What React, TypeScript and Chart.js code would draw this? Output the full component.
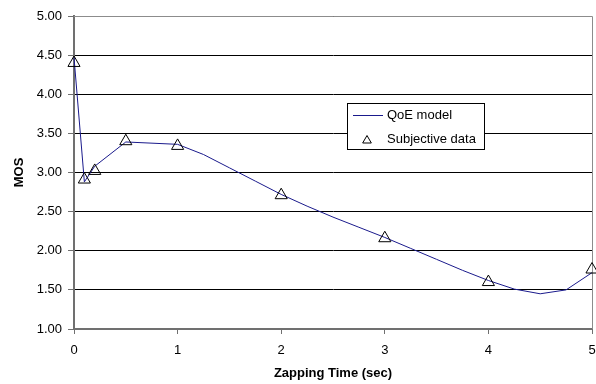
import React, { useEffect, useRef } from "react";
import { Chart, registerables } from "chart.js";

Chart.register(...registerables);

// ---- data ----
const modelTimes = [0, 0.1, 0.2, 0.5, 1, 1.25, 1.5, 1.75, 2, 2.25, 2.5, 2.75, 3, 3.25, 3.5, 3.75, 4, 4.25, 4.5, 4.75, 5];
const modelMos = [4.47, 2.88, 3.08, 3.39, 3.36, 3.23, 3.06, 2.89, 2.72, 2.57, 2.43, 2.3, 2.17, 2.03, 1.89, 1.75, 1.62, 1.51, 1.45, 1.5, 1.72];
const subjectiveTimes = [0, 0.1, 0.2, 0.5, 1, 2, 3, 4, 5];
const subjectiveMos = [4.4, 2.91, 3.02, 3.4, 3.34, 2.71, 2.16, 1.6, 1.76];
const seriesNames = ["QoE model", "Subjective data"];
const xAxisTitle = "Zapping Time (sec)";
const yAxisTitle = "MOS";
const xRange = [0, 5];
const yRange = [1, 5];

const FONT = "'Liberation Sans', Arial, Helvetica, sans-serif";
const NAVY = "#1a1a8c";

export default function App() {
  const ref = useRef<HTMLCanvasElement>(null);

  useEffect(() => {
    if (!ref.current) return;

    const framePlugin = {
      id: "frame",
      beforeDatasetsDraw(chart: any) {
        const { ctx, chartArea } = chart;
        ctx.save();
        ctx.strokeStyle = "#8c8c8c";
        ctx.lineWidth = 1;
        ctx.beginPath();
        ctx.moveTo(chartArea.left, chartArea.top + 0.5);
        ctx.lineTo(chartArea.right + 0.5, chartArea.top + 0.5);
        ctx.lineTo(chartArea.right + 0.5, chartArea.bottom);
        ctx.stroke();
        ctx.restore();
      },
    };

    const legendPlugin = {
      id: "boxLegend",
      afterDraw(chart: any) {
        const ctx = chart.ctx;
        ctx.save();
        const x0 = 347.5, y0 = 103.5, w = 137, h = 46;
        ctx.fillStyle = "#fff";
        ctx.fillRect(x0, y0, w, h);
        ctx.strokeStyle = "#000";
        ctx.lineWidth = 1;
        ctx.strokeRect(x0, y0, w, h);
        ctx.strokeStyle = NAVY;
        ctx.beginPath();
        ctx.moveTo(353, 115.5);
        ctx.lineTo(383, 115.5);
        ctx.stroke();
        const cx = 367, cy = 139.5, r = 5;
        ctx.strokeStyle = "#000";
        ctx.beginPath();
        for (let i = 0; i < 3; i++) {
          const a = (i * 2 * Math.PI) / 3;
          const px = cx + Math.sin(a) * r;
          const py = cy - Math.cos(a) * r + 1;
          if (i === 0) ctx.moveTo(px, py);
          else ctx.lineTo(px, py);
        }
        ctx.closePath();
        ctx.stroke();
        ctx.fillStyle = "#000";
        ctx.font = `13px ${FONT}`;
        ctx.textBaseline = "middle";
        ctx.textAlign = "left";
        ctx.fillText(seriesNames[0], 387, 115);
        ctx.fillText(seriesNames[1], 387, 139);
        ctx.restore();
      },
    };

    const chart = new Chart(ref.current, {
      type: "scatter",
      data: {
        datasets: [
          {
            label: seriesNames[1],
            data: subjectiveTimes.map((x, i) => ({ x, y: subjectiveMos[i] })),
            showLine: false,
            pointStyle: "triangle",
            pointRadius: 7,
            pointBorderWidth: 1,
            borderColor: "#000",
            backgroundColor: "rgba(0,0,0,0)",
            pointBackgroundColor: "rgba(0,0,0,0)",
            pointBorderColor: "#000",
            clip: false,
          },
          {
            label: seriesNames[0],
            data: modelTimes.map((x, i) => ({ x, y: modelMos[i] })),
            showLine: true,
            borderColor: NAVY,
            borderWidth: 1,
            pointRadius: 0,
            tension: 0,
            clip: false,
          },
        ],
      },
      options: {
        animation: false,
        responsive: false,
        maintainAspectRatio: false,
        devicePixelRatio: 1,
        layout: { autoPadding: false, padding: { left: 0, right: 4, top: 16, bottom: 0 } },
        plugins: {
          legend: { display: false },
          tooltip: { enabled: false },
        },
        scales: {
          x: {
            type: "linear",
            min: xRange[0],
            max: xRange[1],
            afterFit: (s: any) => {
              s.height = 55;
              s.paddingLeft = 0;
              s.paddingRight = 0;
            },
            ticks: {
              stepSize: 1,
              color: "#000",
              font: { family: FONT, size: 13 },
              padding: 9,
              maxRotation: 0,
              callback: (v: any) => String(v),
            },
            grid: {
              drawOnChartArea: false,
              drawTicks: true,
              tickLength: 5,
              color: "#707070",
            },
            border: { color: "#707070", width: 2 },
            title: {
              display: true,
              text: xAxisTitle,
              color: "#000",
              font: { family: FONT, size: 13, weight: "bold" },
              padding: { top: 0, bottom: 3 },
            },
          },
          y: {
            type: "linear",
            min: yRange[0],
            max: yRange[1],
            afterFit: (s: any) => {
              s.width = 74;
              s.paddingTop = 0;
              s.paddingBottom = 0;
            },
            ticks: {
              stepSize: 0.5,
              color: "#000",
              font: { family: FONT, size: 13 },
              padding: 6,
              callback: (v: any) => Number(v).toFixed(2),
            },
            grid: {
              color: "#000",
              lineWidth: 1,
              tickLength: 6,
              tickColor: "#707070",
            },
            border: { color: "#707070", width: 2 },
            title: {
              display: true,
              text: yAxisTitle,
              color: "#000",
              font: { family: FONT, size: 13, weight: "bold" },
              padding: { top: 12, bottom: 0 },
            },
          },
        },
      },
      plugins: [framePlugin, legendPlugin],
    } as any);

    return () => chart.destroy();
  }, []);

  return (
    <div style={{ position: "absolute", left: 0, top: 0, width: 596, height: 384, background: "#fff" }}>
      <canvas ref={ref} width={596} height={384} style={{ display: "block" }} />
    </div>
  );
}
